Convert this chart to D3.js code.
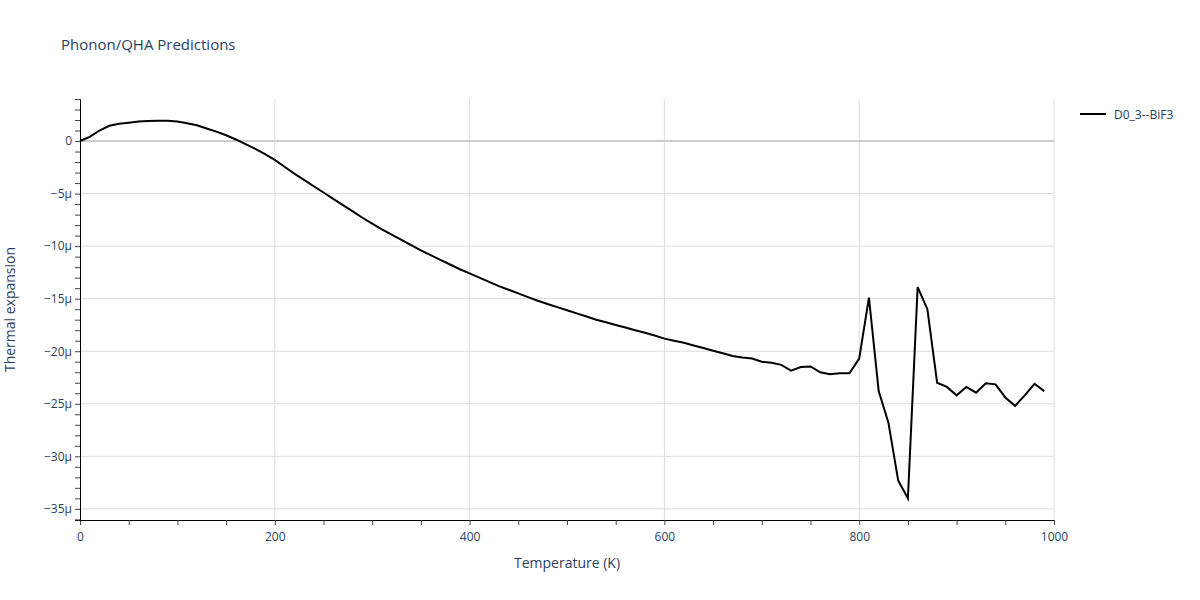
<!DOCTYPE html>
<html>
<head>
<meta charset="utf-8">
<script src="https://cdn.jsdelivr.net/npm/d3@7"></script>
<style>
  body { margin: 0; background: #fff; }
  text { font-family: "Open Sans", sans-serif; fill: #2a3f5f; }
</style>
</head>
<body>
<svg id="chart" width="1200" height="600"></svg>
<script>
var temps = [0,10,20,30,40,50,60,70,80,90,100,110,120,130,140,150,160,170,180,190,
  200,210,220,230,240,250,260,270,280,290,300,310,320,330,340,350,360,370,380,390,
  400,410,420,430,440,450,460,470,480,490,500,510,520,530,540,550,560,570,580,590,
  600,610,620,630,640,650,660,670,680,690,700,710,720,730,740,750,760,770,780,790,
  800,810,820,830,840,850,860,870,880,890,900,910,920,930,940,950,960,970,980,990];
// thermal expansion, in units of 1e-6
var alpha = [0,0.4,1.0,1.45,1.65,1.75,1.85,1.9,1.92,1.92,1.85,1.7,1.5,1.2,0.9,0.55,0.15,-0.3,-0.75,-1.25,
  -1.8,-2.45,-3.1,-3.7,-4.3,-4.9,-5.5,-6.1,-6.7,-7.3,-7.85,-8.4,-8.9,-9.4,-9.9,-10.4,-10.85,-11.3,-11.75,-12.2,
  -12.6,-13.0,-13.4,-13.8,-14.15,-14.5,-14.85,-15.2,-15.5,-15.8,-16.1,-16.4,-16.7,-17.0,-17.25,-17.5,-17.75,-18.0,-18.25,-18.5,
  -18.8,-19.0,-19.2,-19.45,-19.7,-19.95,-20.2,-20.45,-20.6,-20.7,-21.0,-21.1,-21.3,-21.85,-21.5,-21.45,-22.0,-22.2,-22.1,-22.1,
  -20.7,-14.9,-23.8,-26.8,-32.3,-34.0,-13.9,-16.0,-23.0,-23.4,-24.2,-23.4,-23.95,-23.05,-23.15,-24.4,-25.2,-24.2,-23.1,-23.8];
var xTicks = [0,200,400,600,800,1000];
var yTicks = [0,-5,-10,-15,-20,-25,-30,-35];
var seriesName = "D0_3--BiF3";

var svg = d3.select("#chart");
var L = 80, R = 1054, T = 99, B = 520;
var x = d3.scaleLinear().domain([0,1000]).range([L,R]);
var y = d3.scaleLinear().domain([-36.06,4]).range([B,T]);

svg.append("text").attr("x",61).attr("y",50).attr("font-size",15).text("Phonon/QHA Predictions");

var grid = svg.append("g");
grid.selectAll("line.x").data(xTicks.slice(1)).enter().append("line")
  .attr("x1",d=>x(d)).attr("x2",d=>x(d)).attr("y1",T).attr("y2",B)
  .attr("stroke","#ddd").attr("stroke-width",1);
grid.selectAll("line.y").data(yTicks).enter().append("line")
  .attr("x1",L).attr("x2",R).attr("y1",d=>y(d)).attr("y2",d=>y(d))
  .attr("stroke",d=>d===0?"#ccc":"#ddd").attr("stroke-width",d=>d===0?2:1);

var fmt = d => d === 0 ? "0" : "\u2212" + Math.abs(d) + "\u03bc";

var xAxis = svg.append("g").attr("transform","translate(0,"+B+")")
  .call(d3.axisBottom(x).tickValues(d3.range(0,1001,50)).tickSize(5)
    .tickFormat(d => xTicks.includes(d) ? d : ""));
xAxis.selectAll("text").attr("font-size",12).attr("dy","1.1em");

var yAxis = svg.append("g").attr("transform","translate("+L+",0)")
  .call(d3.axisLeft(y).tickValues(d3.range(-36,5,1)).tickSize(5)
    .tickFormat(d => yTicks.includes(d) ? fmt(d) : ""));
yAxis.selectAll("text").attr("font-size",12);
[xAxis, yAxis].forEach(a => {
  a.select(".domain").attr("stroke","#000");
  a.selectAll(".tick line").attr("stroke","#444");
});

svg.append("text").attr("x",(L+R)/2).attr("y",568).attr("text-anchor","middle")
  .attr("font-size",14).text("Temperature (K)");
svg.append("text").attr("transform","translate(15,"+((T+B)/2)+") rotate(-90)")
  .attr("text-anchor","middle").attr("font-size",14).text("Thermal expansion");

var line = d3.line().x((d,i)=>x(temps[i])).y(d=>y(d));
svg.append("path").datum(alpha).attr("d",line)
  .attr("fill","none").attr("stroke","#000").attr("stroke-width",2);

svg.append("line").attr("x1",1080).attr("x2",1106).attr("y1",114).attr("y2",114)
  .attr("stroke","#000").attr("stroke-width",2);
svg.append("text").attr("x",1114).attr("y",118.5).attr("font-size",12).text(seriesName);
</script>
</body>
</html>
